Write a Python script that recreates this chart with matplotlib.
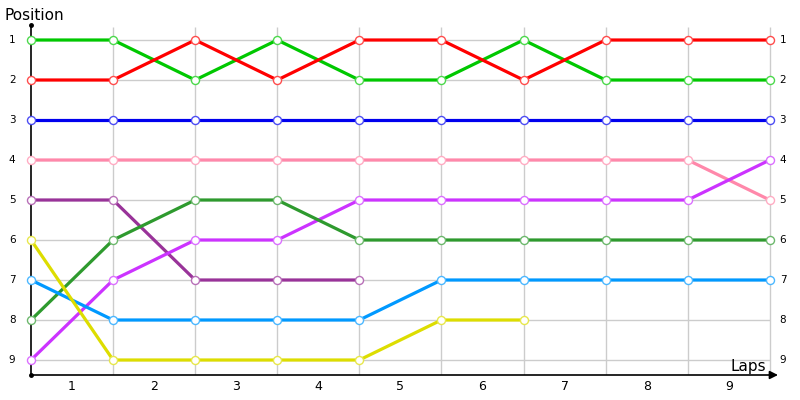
import matplotlib.pyplot as plt
from matplotlib.colors import to_rgb

# laps between gridlines, positions at each gridline (0..9)
laps = ["1", "2", "3", "4", "5", "6", "7", "8", "9"]
positions = [1, 2, 3, 4, 5, 6, 7, 8, 9]

green = [1, 1, 2, 1, 2, 2, 1, 2, 2, 2]
red = [2, 2, 1, 2, 1, 1, 2, 1, 1, 1]
blue = [3, 3, 3, 3, 3, 3, 3, 3, 3, 3]
pink = [4, 4, 4, 4, 4, 4, 4, 4, 4, 5]
purple = [5, 5, 7, 7, 7]
violet = [9, 7, 6, 6, 5, 5, 5, 5, 5, 4]
dark_green = [8, 6, 5, 5, 6, 6, 6, 6, 6, 6]
light_blue = [7, 8, 8, 8, 8, 7, 7, 7, 7, 7]
yellow = [6, 9, 9, 9, 9, 8, 8]

series = [
    (green, "#00c800"),
    (red, "#ff0000"),
    (blue, "#0000ee"),
    (pink, "#ff88aa"),
    (purple, "#993399"),
    (violet, "#cc33ff"),
    (dark_green, "#2e9a2e"),
    (light_blue, "#0099ff"),
    (yellow, "#dddd00"),
]


def lighter(col, k=0.3):
    r, g, b = to_rgb(col)
    return (r + (1 - r) * k, g + (1 - g) * k, b + (1 - b) * k)


fig = plt.figure(figsize=(8, 4), dpi=100)
ax = fig.add_axes([31 / 800, 0.0625, 747 / 800, 0.875])
ax.set_xlim(0, 9.1)
ax.set_ylim(9.375, 0.625)

n = len(laps)
ax.hlines(positions, 0, n, color="#cccccc", lw=1, zorder=1)
ax.vlines(range(1, n + 1), 9.375, 0.68, color="#cccccc", lw=1, zorder=1)

# axes lines (under the series markers)
ax.plot([0, 0], [9.375, 0.625], color="black", lw=1.2, zorder=2, clip_on=False)
ax.plot([0, 0], [0.625, 9.375], "o", color="black", ms=2.5, zorder=2, clip_on=False)
ax.annotate("", xy=(9.1, 9.375), xytext=(0, 9.375),
            arrowprops=dict(arrowstyle="-|>", color="black", lw=1.2,
                            mutation_scale=12, shrinkA=0, shrinkB=0),
            annotation_clip=False, zorder=2)

for vals, col in series:
    xs = list(range(len(vals)))
    ax.plot(xs, vals, color=col, lw=2.3, zorder=3, solid_capstyle="butt")
    ax.plot(xs, vals, "o", ms=5.8, mfc="white", mec=lighter(col), mew=1,
            zorder=4, clip_on=False)

for s in ax.spines.values():
    s.set_visible(False)
ax.set_xticks([])
ax.set_yticks([])

for p in positions:
    ax.text(-0.23, p, str(p), ha="center", va="center", fontsize=7.5)
    ax.text(n + 0.12, p, str(p), ha="left", va="center", fontsize=7.5)

for i, lab in enumerate(laps):
    ax.text(i + 0.5, 9.65, lab, ha="center", va="center", fontsize=9)

fig.text(4 / 800, 1 - 15 / 400, "Position", ha="left", va="center", fontsize=11)
ax.text(8.95, 9.15, "Laps", ha="right", va="center", fontsize=11)

fig.savefig("out.png", dpi=100)
